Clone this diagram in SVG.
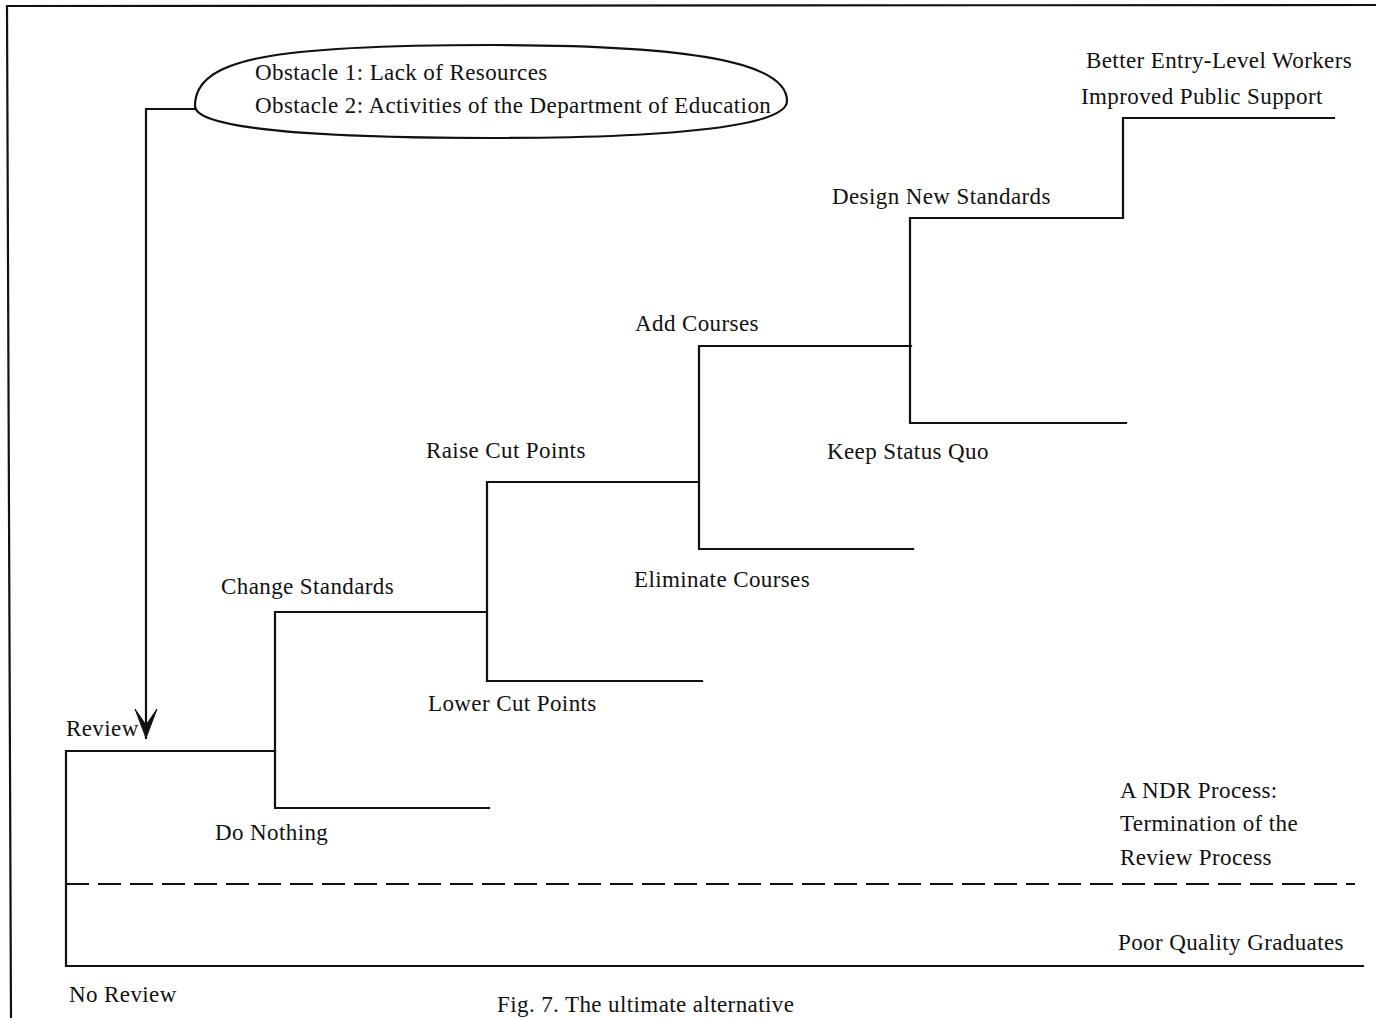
<svg xmlns="http://www.w3.org/2000/svg" width="1376" height="1018" viewBox="0 0 1376 1018">
<style>
  .ln{fill:none;stroke:#111;stroke-width:2.2;stroke-linecap:square}
  .dash{fill:none;stroke:#111;stroke-width:2.2;stroke-dasharray:23 9}
  text{font-family:"Liberation Serif","Times New Roman",serif;font-size:23px;letter-spacing:0.4px;fill:#111}
</style>
<defs>
  <marker id="arr" markerWidth="24" markerHeight="32" refX="12" refY="30" orient="0" markerUnits="userSpaceOnUse">
    <path d="M1,1 L12,30 L23,1 L12,17 Z" fill="#111" stroke="#111" stroke-width="1"/>
  </marker>
</defs>
<rect x="0" y="0" width="1376" height="1018" fill="#fff"/>
<g id="frame">
  <path class="ln" d="M1376,5 L7,6 L11,1018"/>
</g>
<g id="connectors">
  <path class="ln" d="M196,109 H146 V738" marker-end="url(#arr)"/>
  <path class="ln" d="M66,751 H275 M66,751 V966 H1363"/>
  <path class="dash" d="M66,884 H1355"/>
  <path class="ln" d="M275,751 V612 H487 M275,751 V808 H489"/>
  <path class="ln" d="M487,612 V482 H699 M487,612 V681 H702"/>
  <path class="ln" d="M699,480 V346 H911 M699,480 V549 H913"/>
  <path class="ln" d="M910,346 V218 H1123 M910,346 V423 H1126"/>
  <path class="ln" d="M1123,218 V118 H1334"/>
</g>
<g id="obstacles">
  <path class="ln" d="M195,106 C195,58 275,45 491,45 C690,45 787,62 787,101 C787,125 683,138 491,138 C299,138 195,127 195,106 Z"/>
  <text x="255" y="80">Obstacle 1: Lack of Resources</text>
  <text x="255" y="113">Obstacle 2: Activities of the Department of Education</text>
</g>
<g id="review"><text x="66" y="736">Review</text></g>
<g id="no-review"><text x="69" y="1002">No Review</text></g>
<g id="do-nothing"><text x="215" y="840">Do Nothing</text></g>
<g id="change-standards"><text x="221" y="594">Change Standards</text></g>
<g id="lower-cut-points"><text x="428" y="711">Lower Cut Points</text></g>
<g id="raise-cut-points"><text x="426" y="458">Raise Cut Points</text></g>
<g id="eliminate-courses"><text x="634" y="587">Eliminate Courses</text></g>
<g id="add-courses"><text x="635" y="331">Add Courses</text></g>
<g id="keep-status-quo"><text x="827" y="459">Keep Status Quo</text></g>
<g id="design-new-standards"><text x="832" y="204">Design New Standards</text></g>
<g id="outcomes">
  <text x="1086" y="68">Better Entry-Level Workers</text>
  <text x="1081" y="104">Improved Public Support</text>
</g>
<g id="ndr">
  <text x="1120" y="798">A NDR Process:</text>
  <text x="1120" y="831">Termination of the</text>
  <text x="1120" y="865">Review Process</text>
</g>
<g id="poor"><text x="1118" y="950">Poor Quality Graduates</text></g>
<g id="caption"><text x="497" y="1012">Fig. 7. The ultimate alternative</text></g>
</svg>
